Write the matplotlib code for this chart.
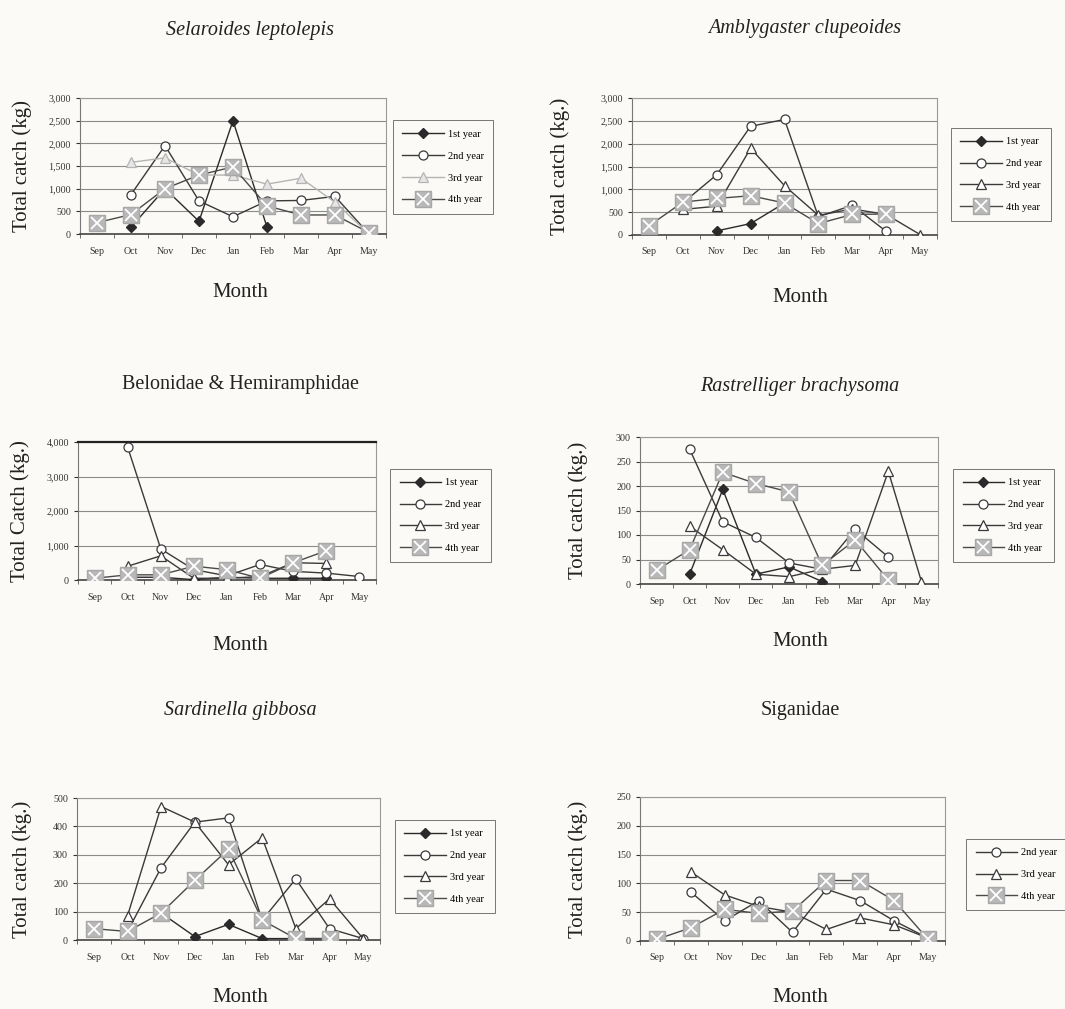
import numpy as np
import matplotlib
matplotlib.use("Agg")
import matplotlib.pyplot as plt

months = ["Sep", "Oct", "Nov", "Dec", "Jan", "Feb", "Mar", "Apr", "May"]
nan = np.nan

# Selaroides leptolepis
sel_y1 = [nan, 150, 1000, 280, 2500, 150, nan, nan, nan]
sel_y2 = [nan, 870, 1950, 730, 380, 730, 740, 830, 0]
sel_y3 = [nan, 1580, 1680, 1300, 1300, 1100, 1230, 700, 0]
sel_y4 = [250, 430, 1000, 1300, 1480, 620, 420, 420, 30]

# Amblygaster clupeoides
amb_y1 = [nan, nan, 90, 250, 700, nan, nan, nan, nan]
amb_y2 = [nan, 700, 1320, 2380, 2530, 400, 650, 80, nan]
amb_y3 = [nan, 560, 630, 1900, 1080, 430, 570, 450, 10]
amb_y4 = [200, 720, 800, 860, 700, 250, 450, 460, nan]

# Belonidae & Hemiramphidae
bel_y1 = [nan, 80, 80, 10, 80, 50, 50, 50, nan]
bel_y2 = [nan, 3850, 900, 300, 120, 450, 250, 200, 100]
bel_y3 = [nan, 400, 700, 50, 50, 100, 500, 480, nan]
bel_y4 = [50, 150, 150, 400, 300, 50, 500, 850, nan]

# Rastrelliger brachysoma
ras_y1 = [nan, 20, 193, 20, 35, 5, nan, nan, nan]
ras_y2 = [nan, 275, 127, 95, 43, 30, 112, 55, nan]
ras_y3 = [nan, 118, 70, 20, 15, 30, 38, 230, 5]
ras_y4 = [28, 70, 228, 205, 188, 38, 90, 8, nan]

# Sardinella gibbosa
sar_y1 = [nan, nan, 95, 12, 55, 5, 5, 5, nan]
sar_y2 = [nan, 30, 255, 415, 430, 70, 215, 40, 5]
sar_y3 = [nan, 85, 470, 415, 265, 360, 40, 145, 5]
sar_y4 = [40, 30, 95, 210, 320, 70, 5, 5, nan]

# Siganidae
sig_y2 = [nan, 85, 35, 70, 15, 90, 70, 35, 5]
sig_y3 = [nan, 120, 80, 60, 50, 20, 40, 28, 5]
sig_y4 = [3, 23, 55, 48, 52, 105, 105, 70, 3]

W, H = 1065, 1009
bg = "#fbfaf6"
plt.rcParams["font.family"] = ["Liberation Serif", "DejaVu Serif"]

fig = plt.figure(figsize=(W / 100, H / 100), dpi=100, facecolor=bg)


def px_axes(x0, y0, x1, y1):
    return fig.add_axes([x0 / W, 1 - y1 / H, (x1 - x0) / W, (y1 - y0) / H])


def draw_panel(ax, series, ymax, ystep, light3=False, dark_top=False):
    x = np.arange(len(months))
    handles = []
    labels = []
    for key, vals in series:
        v = np.array(vals, dtype=float)
        m = ~np.isnan(v)
        if key == "1st year":
            h, = ax.plot(x[m], v[m], color="#2a2a2a", lw=1.0, marker="D",
                         ms=5.5, mfc="#2a2a2a", mec="#2a2a2a", zorder=3)
        elif key == "2nd year":
            h, = ax.plot(x[m], v[m], color="#3a3a3a", lw=1.0, marker="o",
                         ms=6.5, mfc="white", mec="#3a3a3a", mew=0.9, zorder=3)
        elif key == "3rd year":
            c = "#b4b4b4" if light3 else "#3a3a3a"
            fc = "#e6e6e6" if light3 else "white"
            h, = ax.plot(x[m], v[m], color=c, lw=1.0, marker="^",
                         ms=7, mfc=fc, mec=c, mew=0.9, zorder=3)
        else:
            h0, = ax.plot(x[m], v[m], color="#4a4a4a", lw=1.0, marker="s",
                          ms=11.5, mfc="#b8b8b8", mec="#a8a8a8", zorder=4)
            h1, = ax.plot(x[m], v[m], ls="none", marker="x", ms=8,
                          mec="white", mew=1.3, zorder=5)
            h = (h0, h1)
        handles.append(h)
        labels.append(key)

    ax.set_xlim(-0.5, len(months) - 0.5)
    ax.set_ylim(0, ymax)
    ticks = np.arange(0, ymax + 1, ystep)
    ax.set_yticks(ticks)
    ax.set_yticklabels([f"{int(t):,}" for t in ticks])
    ax.set_xticks(x)
    ax.set_xticklabels(months)
    ax.set_xticks(np.arange(-0.5, len(months), 1), minor=True)
    ax.tick_params(axis="x", which="major", length=0, labelsize=7.2, pad=9, colors="#333333")
    ax.tick_params(axis="x", which="minor", length=3, direction="out", color="#555555")
    ax.tick_params(axis="y", length=3, direction="out", labelsize=7.2, colors="#333333")
    ax.grid(axis="y", color="#8c8c8c", lw=0.8)
    ax.set_axisbelow(True)
    ax.set_facecolor(bg)
    for s in ["top", "right"]:
        ax.spines[s].set_color("#9a9a9a")
        ax.spines[s].set_linewidth(0.8)
    if dark_top:
        ax.spines["top"].set_color("#222222")
        ax.spines["top"].set_linewidth(1.6)
    ax.spines["left"].set_color("#777777")
    ax.spines["bottom"].set_color("#444444")
    ax.spines["bottom"].set_linewidth(1.2)
    return handles, labels


def add_legend(handles, labels, box):
    x0, y0, x1, y1 = box
    leg = fig.legend(handles, labels, loc="center",
                     bbox_to_anchor=(x0 / W, 1 - y1 / H, (x1 - x0) / W, (y1 - y0) / H),
                     frameon=True, fontsize=7.5, handlelength=4.0, labelspacing=1.2,
                     borderpad=0.9, handletextpad=0.4, facecolor=bg, edgecolor="#555555",
                     fancybox=False)
    leg.get_frame().set_linewidth(0.7)


panels = [
    dict(title="Selaroides leptolepis", italic=True, ylabel="Total catch (kg)",
         series=[("1st year", sel_y1), ("2nd year", sel_y2), ("3rd year", sel_y3), ("4th year", sel_y4)],
         ymax=3000, ystep=500, ax=(80, 98, 386, 234), leg=(397, 119, 489, 215),
         tpos=(250, 30), mpos=(240, 292), ylx=22, light3=True),
    dict(title="Amblygaster clupeoides", italic=True, ylabel="Total catch (kg.)",
         series=[("1st year", amb_y1), ("2nd year", amb_y2), ("3rd year", amb_y3), ("4th year", amb_y4)],
         ymax=3000, ystep=500, ax=(632, 98, 937, 235), leg=(954, 132, 1048, 217),
         tpos=(805, 28), mpos=(800, 298), ylx=560),
    dict(title="Belonidae & Hemiramphidae", italic=False, ylabel="Total Catch (kg.)",
         series=[("1st year", bel_y1), ("2nd year", bel_y2), ("3rd year", bel_y3), ("4th year", bel_y4)],
         ymax=4000, ystep=1000, ax=(78, 442, 376, 580), leg=(394, 468, 487, 563),
         tpos=(240, 385), mpos=(240, 646), ylx=20, dark_top=True),
    dict(title="Rastrelliger brachysoma", italic=True, ylabel="Total catch (kg.)",
         series=[("1st year", ras_y1), ("2nd year", ras_y2), ("3rd year", ras_y3), ("4th year", ras_y4)],
         ymax=300, ystep=50, ax=(640, 437, 938, 584), leg=(957, 468, 1050, 563),
         tpos=(800, 387), mpos=(800, 642), ylx=578),
    dict(title="Sardinella gibbosa", italic=True, ylabel="Total catch (kg.)",
         series=[("1st year", sar_y1), ("2nd year", sar_y2), ("3rd year", sar_y3), ("4th year", sar_y4)],
         ymax=500, ystep=100, ax=(77, 798, 380, 940), leg=(398, 820, 492, 913),
         tpos=(240, 710), mpos=(240, 997), ylx=22),
    dict(title="Siganidae", italic=False, ylabel="Total catch (kg.)",
         series=[("2nd year", sig_y2), ("3rd year", sig_y3), ("4th year", sig_y4)],
         ymax=250, ystep=50, ax=(640, 797, 945, 941), leg=(963, 839, 1070, 910),
         tpos=(800, 710), mpos=(800, 997), ylx=578),
]

for p in panels:
    ax = px_axes(*p["ax"])
    handles, labels = draw_panel(ax, p["series"], p["ymax"], p["ystep"],
                                 p.get("light3", False), p.get("dark_top", False))
    add_legend(handles, labels, p["leg"])
    tx, ty = p["tpos"]
    fig.text(tx / W, 1 - ty / H, p["title"], ha="center", va="center", fontsize=14.5,
             style="italic" if p["italic"] else "normal", color="#222222")
    mx, my = p["mpos"]
    fig.text(mx / W, 1 - my / H, "Month", ha="center", va="center", fontsize=15, color="#222222")
    y0, y1 = p["ax"][1], p["ax"][3]
    fig.text(p["ylx"] / W, 1 - (y0 + y1) / 2 / H, p["ylabel"], rotation=90, ha="center",
             va="center", fontsize=15, color="#222222")

fig.savefig("out.png", dpi=100, facecolor=bg)
